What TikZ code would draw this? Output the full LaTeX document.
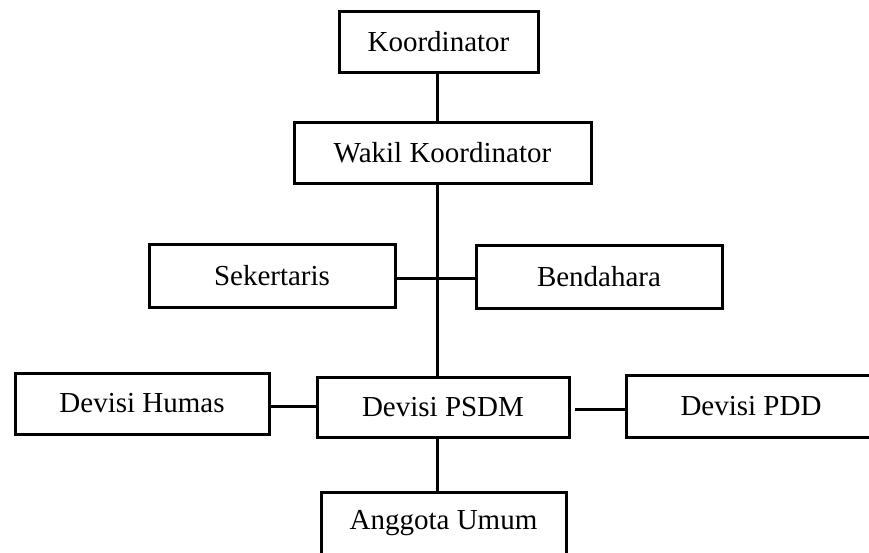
\documentclass[tikz,border=0pt]{standalone}
\usepackage{fontspec}
\setmainfont{Liberation Serif}
\begin{document}
\begin{tikzpicture}[x=1pt,y=-1pt,
  orgbox/.style={draw=black, line width=3pt, fill=white, inner sep=0pt,
    font=\fontsize{29}{33}\selectfont, anchor=center},
  link/.style={draw=black, line width=3pt}]
\useasboundingbox (0,0) rectangle (869,552);
\clip (0,0) rectangle (869,552);
\coordinate (spine) at (437,0);
\coordinate (sl) at (0,278);
\coordinate (hl) at (0,406);
\coordinate (pl) at (0,409);

\node[orgbox, minimum width=199pt, minimum height=61pt] (koord) at (438.5,41.5) {Koordinator};
\node[orgbox, minimum width=297pt, minimum height=61pt] (wakil) at (442.5,152.5) {Wakil Koordinator};
\node[orgbox, minimum width=246pt, minimum height=63pt] (sek) at (272,275.5) {Sekertaris};
\node[orgbox, minimum width=246pt, minimum height=63pt] (bend) at (599,276.5) {Bendahara};
\node[orgbox, minimum width=254pt, minimum height=61pt] (humas) at (142,403.5) {Devisi Humas};
\node[orgbox, minimum width=252pt, minimum height=60pt] (psdm) at (443,407) {Devisi PSDM};
\node[orgbox, minimum width=250pt, minimum height=62pt] (pdd) at (751,406) {Devisi PDD};
\node[orgbox, minimum width=245pt, minimum height=63pt] (anggota) at (443.5,523.5) {Anggota Umum};

\draw[link] (koord.south -| spine) -- (wakil.north -| spine);
\draw[link] (wakil.south -| spine) -- (psdm.north -| spine);
\draw[link] (psdm.south -| spine) -- (anggota.north -| spine);
\draw[link] (sek.east |- sl) -- (bend.west |- sl);
\draw[link] (humas.east |- hl) -- (psdm.west |- hl);
\draw[link] ([xshift=4pt]psdm.east |- pl) -- (pdd.west |- pl);
\end{tikzpicture}
\end{document}
